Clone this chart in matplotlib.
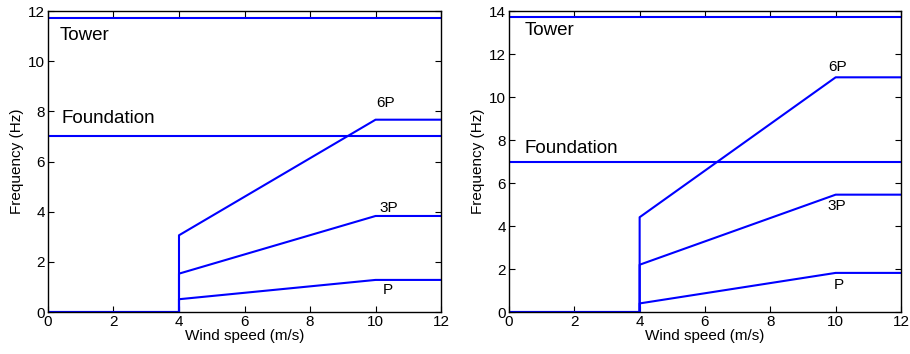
import matplotlib
matplotlib.use("Agg")
import matplotlib.pyplot as plt

plt.rcParams['font.family'] = ['Liberation Sans', 'DejaVu Sans']

# wind speed breakpoints: cut-in at 4 m/s, rated at 10 m/s, max shown 12 m/s
wind = [0, 4, 4, 10, 12]

# left design
tower_l = 11.73
foundation_l = 7.0
p_l = [0, 0, 0.51, 1.28, 1.28]
p3_l = [0, 0, 1.53, 3.83, 3.83]
p6_l = [0, 0, 3.06, 7.67, 7.67]

# right design
tower_r = 13.74
foundation_r = 7.0
p_r = [0, 0, 0.40, 1.82, 1.82]
p3_r = [0, 0, 2.20, 5.46, 5.46]
p6_r = [0, 0, 4.41, 10.92, 10.92]

fig = plt.figure(figsize=(9.1, 3.54), dpi=100)


def panel(rect, ymax, tower, foundation, curves, labels, label_pos, tower_pos, found_pos):
    ax = fig.add_axes(rect)
    ax.axhline(tower, color='blue', lw=1.5)
    ax.axhline(foundation, color='blue', lw=1.5)
    for c in curves:
        ax.plot(wind, c, color='blue', lw=1.5)
    ax.set_xlim(0, 12)
    ax.set_ylim(0, ymax)
    ax.set_xticks(range(0, 13, 2))
    ax.set_yticks(range(0, ymax + 1, 2))
    for s in ax.spines.values():
        s.set_linewidth(1.0)
    ax.tick_params(direction='in', top=True, right=True, length=4,
                   labelsize=11, pad=2)
    ax.set_xlabel('Wind speed (m/s)', fontsize=11, labelpad=0)
    ax.set_ylabel('Frequency (Hz)', fontsize=11, labelpad=3)
    ax.text(tower_pos[0], tower_pos[1], 'Tower', fontsize=13.5, va='center')
    ax.text(found_pos[0], found_pos[1], 'Foundation', fontsize=13.5, va='center')
    for lab, (x, y) in zip(labels, label_pos):
        ax.text(x, y, lab, fontsize=11, ha='center', va='center')
    return ax


panel([0.0527, 0.1186, 0.432, 0.850], 12, tower_l, foundation_l,
      [p_l, p3_l, p6_l], ['P', '3P', '6P'],
      [(10.37, 0.88), (10.4, 4.16), (10.32, 8.32)],
      (0.35, 11.04), (0.4, 7.72))

panel([0.5593, 0.1186, 0.4308, 0.850], 14, tower_r, foundation_r,
      [p_r, p3_r, p6_r], ['P', '3P', '6P'],
      [(10.1, 1.26), (10.04, 4.94), (10.07, 11.41)],
      (0.49, 13.08), (0.49, 7.63))

fig.savefig('out.png', dpi=100)
